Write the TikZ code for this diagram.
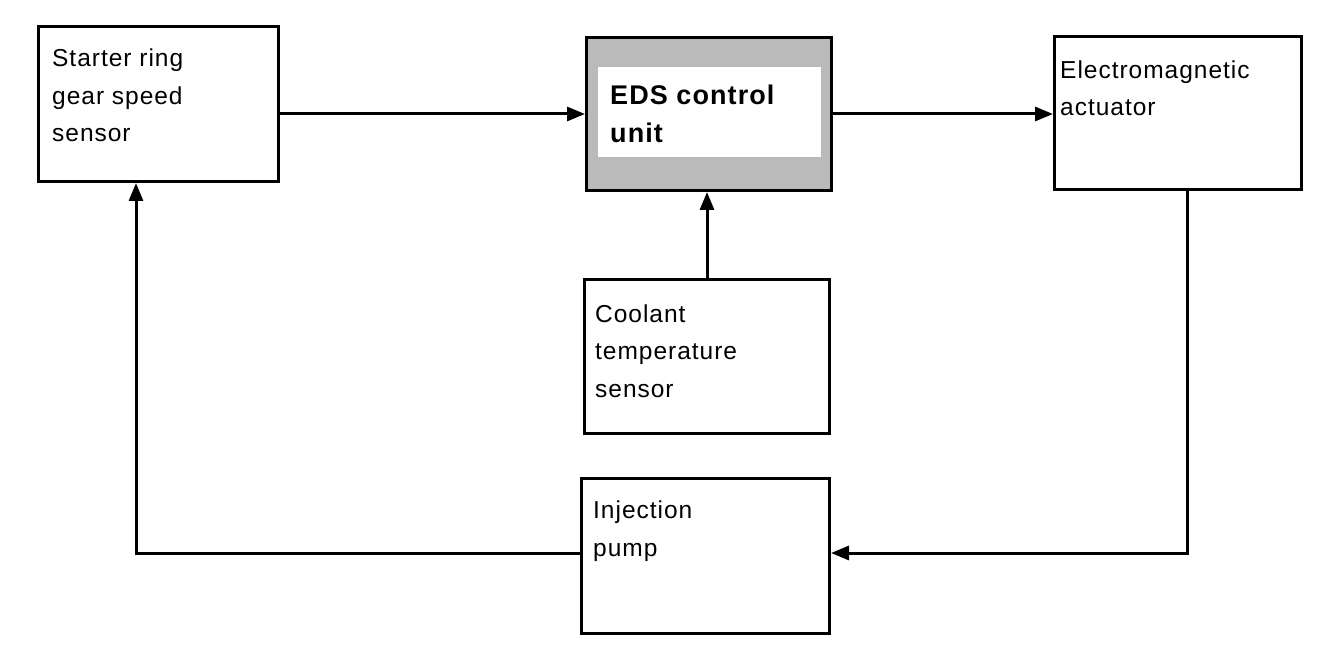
\documentclass[tikz,border=0pt]{standalone}
\usepackage{fontspec}
\setmainfont{Liberation Sans}[LetterSpace=4]
\usetikzlibrary{arrows.meta}
\begin{document}
\begin{tikzpicture}[x=1pt,y=-1pt,
  box/.style={draw, line width=3pt, inner sep=0pt, anchor=north west},
  lbl/.style={anchor=base west, inner sep=0pt, align=left, font=\fontsize{24.5}{37.5}\selectfont},
  blbl/.style={anchor=base west, inner sep=0pt, align=left, font=\fontsize{27}{38}\selectfont\bfseries},
  conn/.style={line width=3pt, -{Triangle[length=18pt,width=14pt]}},
]
\useasboundingbox (0,0) rectangle (1328,652);
\fill[white] (0,0) rectangle (1328,652);
% boxes
\node[box, minimum width=240pt, minimum height=155pt] (start) at (37,25) {};
\node[box, fill=black!27, minimum width=245pt, minimum height=153pt] (eds) at (585,36) {};
\node[anchor=north west, inner sep=0pt, fill=white, minimum width=223pt, minimum height=90pt] (edsin) at (598,67) {};
\node[box, minimum width=247pt, minimum height=153pt] (elec) at (1053,35) {};
\node[box, minimum width=245pt, minimum height=154pt] (cool) at (583,278) {};
\node[box, minimum width=248pt, minimum height=155pt] (inj) at (580,477) {};
% texts (base anchor = baseline of last line)
\node[lbl] (tstart) at (52,142) {Starter ring\\gear speed\\sensor};
\node[blbl] (teds) at (610,143) {EDS control\\unit};
\node[lbl] (telec) at (1060,116) {Electromagnetic\\actuator};
\node[lbl] (tcool) at (595,397) {Coolant\\temperature\\sensor};
\node[lbl] (tinj) at (593,556) {Injection\\pump};
% connectors
\coordinate (c1) at (1187,553);
\coordinate (c2) at (136,553);
\draw[conn] (start.east |- eds.west) -- (eds.west);
\draw[conn] (eds.east) -- (eds.east -| elec.west);
\draw[conn] (cool.north) -- (cool.north |- eds.south);
\draw[conn] (elec.south -| c1) -- (c1) -- (inj.east |- c1);
\draw[conn] (inj.west |- c2) -- (c2) -- (c2 |- start.south);
\end{tikzpicture}
\end{document}
